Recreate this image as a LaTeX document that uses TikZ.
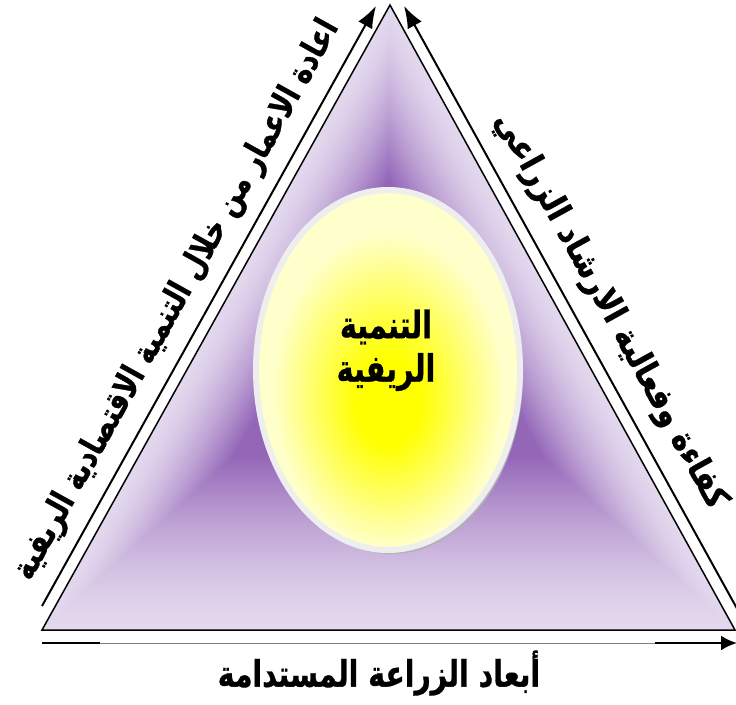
\documentclass[tikz,border=0pt]{standalone}
\usepackage{fontspec}
\newfontfamily\arabicfont[Script=Arabic, BoldFeatures={FakeBold=1}]{DejaVu Sans}
\TeXXeTstate=1
\usetikzlibrary{calc,arrows.meta,shapes.geometric}
\definecolor{purpL}{HTML}{E2D7ED}
\definecolor{purpD}{HTML}{9466B8}
\definecolor{ringgray}{HTML}{EEEEEE}
\definecolor{eggpale}{HTML}{FFFFCC}
\pgfdeclareradialshading{eggshade}{\pgfpoint{0bp}{-5bp}}{color(0bp)=(yellow); color(6bp)=(yellow); color(22bp)=(eggpale); color(50bp)=(eggpale)}
\tikzset{
  sidearrow/.style={line width=2pt, -{Latex[length=22pt,width=16pt]}},
  artext/.style={font=\arabicfont\bfseries\fontsize{#1}{32}\selectfont, inner sep=0pt},
  egg/.style={ellipse, inner sep=0pt, minimum width=264pt, minimum height=360pt}
}
\begin{document}
\begin{tikzpicture}[x=1pt,y=-1pt]
\useasboundingbox (0,0) rectangle (736,704);
\coordinate (A) at (42,630);
\coordinate (B) at (735,630);
\coordinate (T) at (390,5);
\coordinate (C) at (388,317.5);
\foreach \i in {0,...,60} {
  \pgfmathsetmacro\s{1-\i*0.01}
  \pgfmathtruncatemacro\p{min(100,100*((\i/55)^1.5))}
  \fill[purpD!\p!purpL] ($(C)!\s!(A)$) -- ($(C)!\s!(B)$) -- ($(C)!\s!(T)$) -- cycle;
}
\draw[line width=1.5pt, line join=miter] (A) -- (B) -- (T) -- cycle;
% side arrows
\coordinate (L1) at (42,606);
\coordinate (L2) at (376,6);
\draw[sidearrow] (L1) -- (L2);
\coordinate (R1) at (740,614);
\coordinate (R2) at (404,6);
\draw[sidearrow] (R1) -- (R2);
% bottom arrow
\coordinate (BL) at (42,643);
\coordinate (BLm) at (100,643);
\coordinate (BRm) at (655,643);
\coordinate (BR) at (737,643);
\draw[gray, line width=1pt] (BL) -- (BRm);
\draw[line width=2.5pt] (BL) -- (BLm);
\draw[line width=2.5pt, -{Latex[length=16pt,width=15pt]}] (BRm) -- (BR);
% egg
\node[egg, fill=gray!60] (eggshadow) at (391,374) {};
\node[egg, shading=eggshade, draw=ringgray, line width=6pt] (egg) at (388,370) {};
\node[artext=26] (center1) at (386,327) {\scalebox{1.1}[1.45]{\beginR التنمية\endR}};
\node[artext=26] (center2) at (386,372) {\scalebox{1.1}[1.45]{\beginR الريفية\endR}};
% side texts
\node[artext=25, rotate=60.9] (lefttext) at (177,300) {\scalebox{1.08}[1.35]{\beginR اعادة الاعمار من خلال التنمية الاقتصادية الريفية\endR}};
\node[artext=25, rotate=-61.1] (righttext) at (610,311) {\scalebox{1.2}[1.35]{\beginR كفاءة وفعالية الارشاد الزراعي\endR}};
\node[artext=27] (bottomtext) at (379,673) {\scalebox{1.05}[1.35]{\beginR أبعاد الزراعة المستدامة\endR}};
\end{tikzpicture}
\end{document}
